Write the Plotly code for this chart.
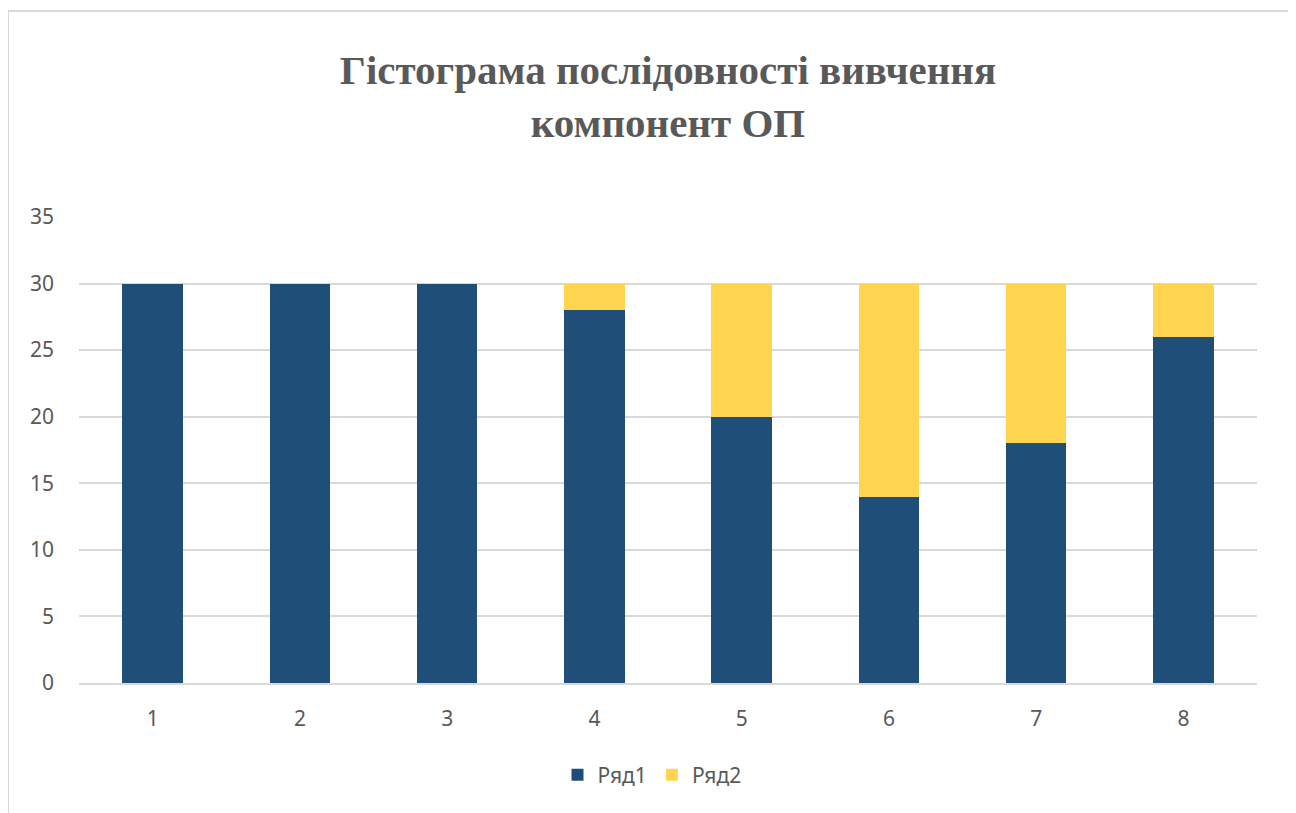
import plotly.graph_objects as go

categories = ["1", "2", "3", "4", "5", "6", "7", "8"]
series1 = [30, 30, 30, 28, 20, 14, 18, 26]
series2 = [0, 0, 0, 2, 10, 16, 12, 4]
series_names = ["Ряд1", "Ряд2"]
colors = ["#1F4E79", "#FFD54F"]
title_text = "Гістограма послідовності вивчення<br>компонент ОП"

fig = go.Figure()
fig.add_trace(go.Bar(x=categories, y=series1, name=series_names[0], marker=dict(color=colors[0], line=dict(width=0))))
fig.add_trace(go.Bar(x=categories, y=series2, name=series_names[1], marker=dict(color=colors[1], line=dict(width=0))))

OFF = 8  # page body margin
W, H = 1296, 813
L, R, T, B = 79 - OFF, W - (1257 - OFF), 217 - OFF, H - (683 - OFF)
pw, ph = W - L - R, H - T - B

def px_x(x):
    return (x - OFF - L) / pw

def px_y(y):
    return (H - B - (y - OFF)) / ph

fig.update_layout(
    width=W, height=H,
    barmode="stack", bargap=0.59,
    margin=dict(l=L, r=R, t=T, b=B),
    paper_bgcolor="white", plot_bgcolor="white",
    title=dict(text=title_text, x=0.5, xref="paper", xanchor="center",
               y=1 - 76 / H, yref="container", yanchor="middle",
               font=dict(family="Liberation Serif", size=41, color="#595959", weight="bold")),
    legend=dict(orientation="h", x=0.5 - 16 / pw, xanchor="center", y=px_y(775), yanchor="middle",
                font=dict(family="Noto Sans", size=21, color="#595959"),
                traceorder="normal"),
    font=dict(family="Noto Sans", color="#595959"),
    shapes=[dict(type="rect", xref="paper", yref="paper",
                 x0=px_x(8), x1=px_x(1289), y0=px_y(830), y1=px_y(11),
                 line=dict(color="#D9D9D9", width=2), fillcolor="rgba(0,0,0,0)", layer="below")],
)
fig.update_xaxes(type="category", showgrid=False, showline=True, linecolor="#D9D9D9", linewidth=2,
                 ticks="", tickfont=dict(family="Noto Sans", size=21, color="#595959"),
                 ticklabelstandoff=16)
fig.update_yaxes(range=[0, 35], dtick=5, showgrid=True, gridcolor="#D9D9D9", gridwidth=2,
                 zeroline=False, showline=False, ticks="",
                 tickfont=dict(family="Noto Sans", size=21, color="#595959"),
                 ticklabelstandoff=24)

fig.write_html("out.html")
